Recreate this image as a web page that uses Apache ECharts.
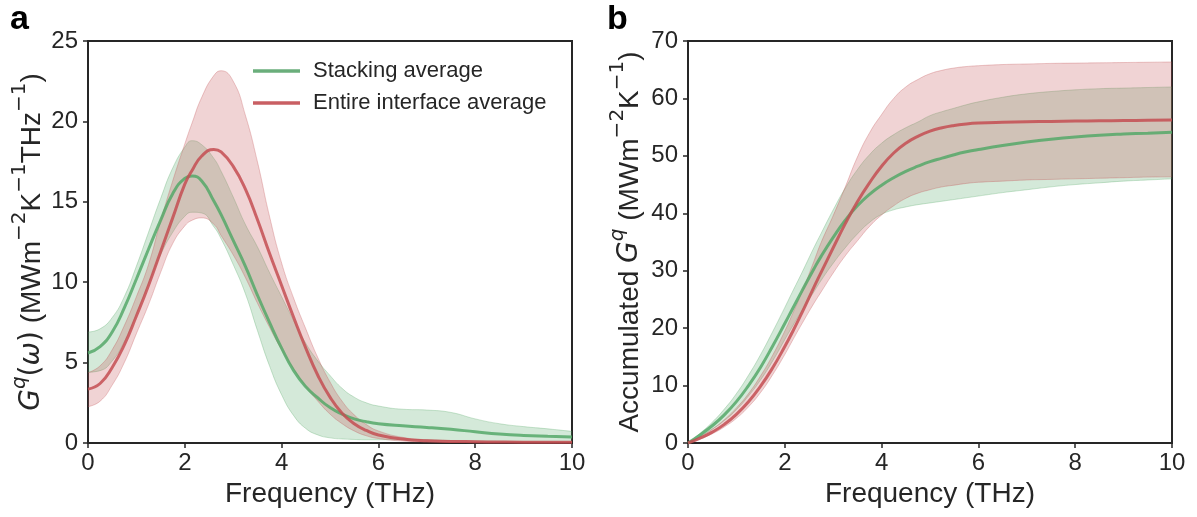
<!DOCTYPE html>
<html><head><meta charset="utf-8">
<script src="https://cdn.jsdelivr.net/npm/echarts@6/dist/echarts.min.js"></script>
<style>html,body{margin:0;padding:0;background:#fff}#c{width:1197px;height:517px}</style>
</head><body><div id="c"></div>
<script>
// Frequency grid (THz)
const freq = [0,0.25,0.5,0.75,1,1.25,1.5,1.75,2,2.15,2.35,2.6,2.75,3,3.25,3.5,3.75,4,4.25,4.5,4.75,5,5.25,5.5,5.75,6,6.5,7,7.5,8,8.5,9,9.5,10];
// Panel a: spectral Gq(ω)
const stackMean  = [5.6,6.0,6.9,8.4,10.2,12.05,13.85,15.5,16.46,16.6,16.3,15.05,14.2,12.6,11.0,9.2,7.5,5.9,4.5,3.5,2.8,2.2,1.8,1.5,1.32,1.2,1.07,0.97,0.85,0.7,0.56,0.47,0.42,0.38];
const stackUpper = [6.9,7.1,7.8,9.1,11.0,13.1,15.2,17.1,18.4,18.8,18.55,17.7,16.9,15.3,13.6,12.2,10.6,9.1,7.6,6.2,5.1,4.2,3.4,2.85,2.5,2.3,2.1,2.05,1.9,1.5,1.2,1.02,0.88,0.72];
const stackLower = [4.4,4.5,5.1,6.3,8.0,9.9,11.7,13.1,14.1,14.35,14.3,13.45,12.7,11.1,9.3,7.0,4.8,3.0,1.7,0.9,0.5,0.32,0.25,0.22,0.2,0.2,0.2,0.18,0.15,0.12,0.1,0.08,0.07,0.05];
const entireMean  = [3.35,3.7,4.7,6.1,7.9,9.8,11.9,14.0,16.1,16.95,17.85,18.26,18.1,17.2,15.8,13.9,11.8,9.8,7.8,5.9,4.2,2.85,1.85,1.2,0.78,0.5,0.25,0.14,0.1,0.08,0.06,0.05,0.05,0.04];
const entireUpper = [4.37,4.8,5.8,7.3,9.1,11.1,13.8,16.3,18.6,19.9,21.5,22.85,23.15,22.5,20.4,17.5,14.1,11.2,9.0,7.1,5.3,3.8,2.6,1.75,1.15,0.75,0.35,0.2,0.14,0.11,0.1,0.09,0.08,0.08];
const entireLower = [2.26,2.6,3.6,5.0,6.8,8.6,10.6,12.4,13.5,13.85,14.0,13.6,12.9,11.7,10.3,8.7,7.2,5.8,4.6,3.5,2.6,1.8,1.2,0.75,0.45,0.28,0.12,0.06,0.03,0.02,0.02,0.02,0.02,0.02];
// Panel b: accumulated Gq
const accStackMean  = [0,1.4,3.0,4.9,7.2,10.0,13.2,16.9,20.8,23.2,26.4,30.3,32.5,35.8,38.8,41.3,43.3,44.9,46.2,47.3,48.2,49.0,49.6,50.2,50.7,51.1,51.8,52.4,52.9,53.3,53.6,53.8,53.95,54.1];
const accStackUpper = [0,1.7,3.6,5.9,8.6,11.8,15.4,19.4,23.6,26.2,29.6,34.0,36.5,40.6,44.4,47.6,50.2,52.2,53.7,54.9,55.9,57.0,57.7,58.3,58.9,59.4,60.2,60.8,61.2,61.5,61.7,61.8,61.9,62.0];
const accStackLower = [0,1.1,2.4,3.9,5.8,8.2,11.0,14.3,18.0,20.2,23.0,26.3,28.3,31.3,34.0,36.4,38.4,39.8,40.6,41.1,41.5,41.8,42.1,42.4,42.7,43.0,43.6,44.1,44.6,45.0,45.3,45.6,45.8,46.0];
const accEntireMean  = [0,0.85,1.9,3.25,5.0,7.2,9.9,13.1,16.8,19.2,22.6,27.1,29.7,34.0,38.2,42.0,45.3,48.2,50.5,52.2,53.4,54.3,54.9,55.3,55.55,55.7,55.85,55.95,56.0,56.05,56.1,56.15,56.2,56.25];
const accEntireUpper = [0,1.1,2.4,4.05,6.1,8.6,11.7,15.3,19.5,22.3,26.2,31.6,34.9,39.6,44.6,49.8,54.0,57.2,60.0,62.0,63.3,64.3,64.9,65.3,65.55,65.7,65.9,66.0,66.1,66.15,66.2,66.25,66.3,66.35];
const accEntireLower = [0,0.7,1.6,2.8,4.3,6.3,8.8,11.9,15.4,17.7,20.7,24.3,26.3,29.6,32.6,35.2,37.7,39.7,41.3,42.6,43.5,44.1,44.6,44.9,45.2,45.4,45.6,45.8,45.9,46.0,46.1,46.2,46.3,46.35];

const seriesNames = ['Stacking average', 'Entire interface average'];

const INK = '#262626';
const FONT = 'Liberation Sans, Arial, Helvetica, sans-serif';
const MATH = 'DejaVu Sans, sans-serif';
const GREEN = { line: 'rgba(85,168,104,0.85)', fill: 'rgba(85,168,104,0.25)', edge: 'rgba(85,168,104,0.3)', solid: '#6aae7b' };
const RED = { line: 'rgba(196,78,82,0.85)', fill: 'rgba(196,78,82,0.25)', edge: 'rgba(196,78,82,0.3)', solid: '#c95f63' };
const SMOOTH = 0.5;

// data rows are [value, frequency] so the stacked dimension is the value (y)
function rows(arr) { return freq.map((x, i) => [arr[i], x]); }
function band(id, lo, hi, c, gi, z) {
  const common = { type: 'line', xAxisIndex: gi, yAxisIndex: gi, stack: id, symbol: 'none', smooth: SMOOTH,
    encode: { x: 1, y: 0 }, silent: true, z: z, animation: false };
  return [
    Object.assign({}, common, { name: id + '_lo', data: rows(lo), lineStyle: { width: 1, color: c.edge } }),
    Object.assign({}, common, { name: id + '_band', data: rows(hi.map((h, i) => h - lo[i])), lineStyle: { width: 1, color: c.edge }, areaStyle: { color: c.fill, opacity: 1 } })
  ];
}
function meanLine(name, arr, c, gi) {
  return { type: 'line', name: name, xAxisIndex: gi, yAxisIndex: gi, data: rows(arr), encode: { x: 1, y: 0 },
    symbol: 'none', smooth: SMOOTH, z: 5, animation: false,
    lineStyle: { width: 3, color: c.line }, itemStyle: { color: c.solid } };
}

const tickLabel = { color: INK, fontSize: 24, fontFamily: FONT };
function xAxis(gi) {
  return { type: 'value', gridIndex: gi, min: 0, max: 10, interval: 2,
    name: 'Frequency (THz)', nameLocation: 'middle', nameGap: 36,
    nameTextStyle: { color: INK, fontSize: 28, fontFamily: FONT },
    axisLine: { show: true, lineStyle: { color: INK, width: 2 } },
    axisTick: { show: true, inside: false, length: 5, lineStyle: { color: INK, width: 1.5 } },
    axisLabel: Object.assign({ margin: 8 }, tickLabel), splitLine: { show: false } };
}
const rich = {
  n: { fontSize: 28, fontFamily: FONT, color: INK, lineHeight: 36, verticalAlign: 'bottom' },
  m: { fontSize: 28, fontFamily: MATH, color: INK, lineHeight: 36, verticalAlign: 'bottom' },
  i: { fontSize: 28, fontFamily: MATH, fontStyle: 'italic', color: INK, lineHeight: 36, verticalAlign: 'bottom' },
  si: { fontSize: 20, fontFamily: MATH, fontStyle: 'italic', color: INK, lineHeight: 20, verticalAlign: 'top' },
  s: { fontSize: 20, fontFamily: MATH, color: INK, lineHeight: 20, verticalAlign: 'top' }
};
function yAxis(gi, max, interval, name, gap) {
  return { type: 'value', gridIndex: gi, min: 0, max: max, interval: interval,
    name: name, nameLocation: 'middle', nameGap: gap, nameRotate: 90,
    nameTextStyle: { rich: rich, color: INK },
    axisLine: { show: true, lineStyle: { color: INK, width: 2 } },
    axisTick: { show: true, inside: false, length: 5, lineStyle: { color: INK, width: 1.5 } },
    axisLabel: Object.assign({ margin: 10 }, tickLabel), splitLine: { show: false } };
}

const option = {
  backgroundColor: '#fff',
  animation: false,
  grid: [
    { left: 88, right: 625, top: 41, bottom: 74, show: true, borderColor: INK, borderWidth: 2, backgroundColor: 'transparent' },
    { left: 688, right: 25, top: 41, bottom: 74, show: true, borderColor: INK, borderWidth: 2, backgroundColor: 'transparent' }
  ],
  xAxis: [xAxis(0), xAxis(1)],
  yAxis: [
    yAxis(0, 25, 5, '{i|G}{si|q}{m|(}{i|ω}{m|)}{n| (MWm}{s|−2}{n|K}{s|−1}{n|THz}{s|−1}{n|)}', 42),
    yAxis(1, 70, 10, '{n|Accumulated }{i|G}{si|q}{n| (MWm}{s|−2}{n|K}{s|−1}{n|)}', 44)
  ],
  legend: {
    data: seriesNames, orient: 'vertical', left: 248, top: 54, itemGap: 8,
    icon: 'rect', itemWidth: 47, itemHeight: 3.5,
    textStyle: { color: INK, fontSize: 22, fontFamily: FONT, lineHeight: 24, padding: [0, 0, 0, 8] },
    selectedMode: false
  },
  graphic: [
    { type: 'text', left: 10, top: 3, style: { text: 'a', font: 'bold 34px ' + FONT, fill: '#000' } },
    { type: 'text', left: 607, top: 3, style: { text: 'b', font: 'bold 34px ' + FONT, fill: '#000' } }
  ],
  series: [].concat(
    band('gA', stackLower, stackUpper, GREEN, 0, 1),
    band('rA', entireLower, entireUpper, RED, 0, 2),
    [meanLine(seriesNames[0], stackMean, GREEN, 0), meanLine(seriesNames[1], entireMean, RED, 0)],
    band('gB', accStackLower, accStackUpper, GREEN, 1, 1),
    band('rB', accEntireLower, accEntireUpper, RED, 1, 2),
    [meanLine(seriesNames[0], accStackMean, GREEN, 1), meanLine(seriesNames[1], accEntireMean, RED, 1)]
  )
};
const chart = echarts.init(document.getElementById('c'), null, { renderer: 'canvas' });
chart.setOption(option);
</script>
</body></html>
